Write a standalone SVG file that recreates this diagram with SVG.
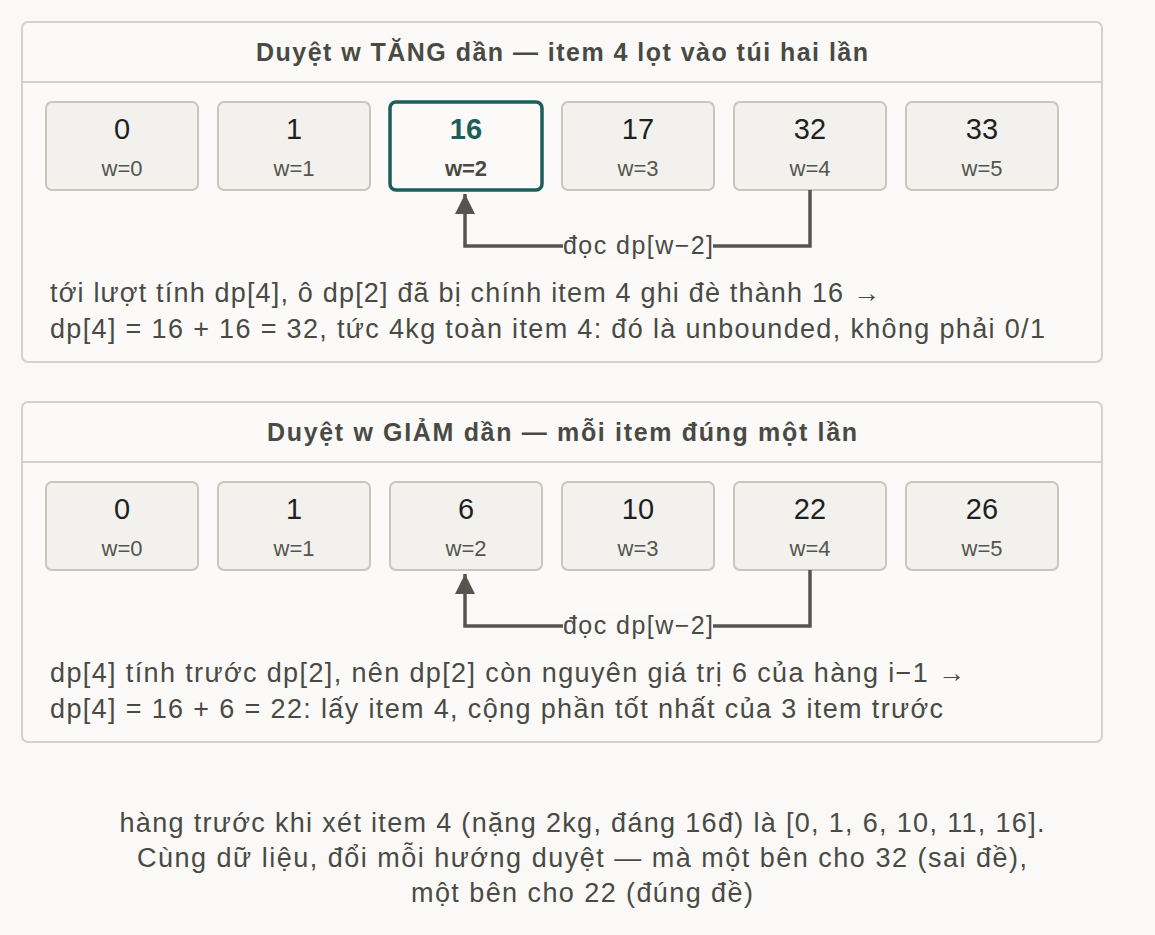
<svg xmlns="http://www.w3.org/2000/svg" width="1155" height="935" viewBox="0 0 1155 935">
<style>
text{font-family:"Helvetica Neue","Liberation Sans",Arial,sans-serif}
.panel{fill:#fbfaf8;stroke:#d4d1cb;stroke-width:2}
.cell{fill:#f2f1ee;stroke:#c9c6c0;stroke-width:2}
.hl{fill:#fbfaf8;stroke:#1b5e5a;stroke-width:3.5}
.title{font-size:25px;font-weight:bold;fill:#4a4a44;text-anchor:middle}
.v{font-size:29px;fill:#1f1f1f;text-anchor:middle}
.w{font-size:22px;fill:#555550;text-anchor:middle}
.note{font-size:27px;fill:#4a4a44}
.foot{font-size:27px;fill:#4a4a44;text-anchor:middle}
.lbl{font-size:25px;fill:#4a4a44;text-anchor:middle}
.conn{fill:none;stroke:#555550;stroke-width:3.5}
</style>
<defs><marker id="a" viewBox="0 0 20 20" refX="20" refY="10" markerWidth="20" markerHeight="20" orient="auto" markerUnits="userSpaceOnUse"><path d="M0,0L20,10L0,20z" fill="#555550"/></marker></defs>
<rect width="1155" height="935" fill="#faf9f7"/>
<g id="panel1">
<rect class="panel" x="22" y="22" width="1080" height="340" rx="6"/>
<line x1="22" y1="82" x2="1102" y2="82" stroke="#d4d1cb" stroke-width="2"/>
<text class="title" x="562" y="61" textLength="612">Duyệt w TĂNG dần — item 4 lọt vào túi hai lần</text>
</g>
<g id="p1c0"><rect class="cell" x="46" y="102" width="152" height="88" rx="6"/><text class="v" x="122" y="139">0</text><text class="w" x="122" y="176">w=0</text></g>
<g id="p1c1"><rect class="cell" x="218" y="102" width="152" height="88" rx="6"/><text class="v" x="294" y="139">1</text><text class="w" x="294" y="176">w=1</text></g>
<g id="p1c2"><rect class="hl" x="390" y="102" width="152" height="88" rx="6"/><text class="v" x="466" y="139" style="font-weight:bold;fill:#1b5e5a">16</text><text class="w" x="466" y="176" style="font-weight:bold;fill:#4a4a44">w=2</text></g>
<g id="p1c3"><rect class="cell" x="562" y="102" width="152" height="88" rx="6"/><text class="v" x="638" y="139">17</text><text class="w" x="638" y="176">w=3</text></g>
<g id="p1c4"><rect class="cell" x="734" y="102" width="152" height="88" rx="6"/><text class="v" x="810" y="139">32</text><text class="w" x="810" y="176">w=4</text></g>
<g id="p1c5"><rect class="cell" x="906" y="102" width="152" height="88" rx="6"/><text class="v" x="982" y="139">33</text><text class="w" x="982" y="176">w=5</text></g>
<text class="note" x="50" y="302" textLength="830">tới lượt tính dp[4], ô dp[2] đã bị chính item 4 ghi đè thành 16 →</text>
<text class="note" x="50" y="338" textLength="995">dp[4] = 16 + 16 = 32, tức 4kg toàn item 4: đó là unbounded, không phải 0/1</text>
<g id="panel2">
<rect class="panel" x="22" y="402" width="1080" height="340" rx="6"/>
<line x1="22" y1="462" x2="1102" y2="462" stroke="#d4d1cb" stroke-width="2"/>
<text class="title" x="562" y="441" textLength="590">Duyệt w GIẢM dần — mỗi item đúng một lần</text>
</g>
<g id="p2c0"><rect class="cell" x="46" y="482" width="152" height="88" rx="6"/><text class="v" x="122" y="519">0</text><text class="w" x="122" y="556">w=0</text></g>
<g id="p2c1"><rect class="cell" x="218" y="482" width="152" height="88" rx="6"/><text class="v" x="294" y="519">1</text><text class="w" x="294" y="556">w=1</text></g>
<g id="p2c2"><rect class="cell" x="390" y="482" width="152" height="88" rx="6"/><text class="v" x="466" y="519">6</text><text class="w" x="466" y="556">w=2</text></g>
<g id="p2c3"><rect class="cell" x="562" y="482" width="152" height="88" rx="6"/><text class="v" x="638" y="519">10</text><text class="w" x="638" y="556">w=3</text></g>
<g id="p2c4"><rect class="cell" x="734" y="482" width="152" height="88" rx="6"/><text class="v" x="810" y="519">22</text><text class="w" x="810" y="556">w=4</text></g>
<g id="p2c5"><rect class="cell" x="906" y="482" width="152" height="88" rx="6"/><text class="v" x="982" y="519">26</text><text class="w" x="982" y="556">w=5</text></g>
<text class="note" x="50" y="682" textLength="915">dp[4] tính trước dp[2], nên dp[2] còn nguyên giá trị 6 của hàng i−1 →</text>
<text class="note" x="50" y="718" textLength="893">dp[4] = 16 + 6 = 22: lấy item 4, cộng phần tốt nhất của 3 item trước</text>
<g id="connectors">
<path class="conn" d="M810,190V246H465V194" marker-end="url(#a)"/>
<rect x="563" y="232" width="150" height="28" fill="#faf9f7"/>
<text class="lbl" x="638" y="254" textLength="150">đọc dp[w−2]</text>
<path class="conn" d="M810,570V626H465V574" marker-end="url(#a)"/>
<rect x="563" y="612" width="150" height="28" fill="#faf9f7"/>
<text class="lbl" x="638" y="634" textLength="150">đọc dp[w−2]</text>
</g>
<text class="foot" x="582" y="832" textLength="925">hàng trước khi xét item 4 (nặng 2kg, đáng 16đ) là [0, 1, 6, 10, 11, 16].</text>
<text class="foot" x="582" y="867" textLength="890">Cùng dữ liệu, đổi mỗi hướng duyệt — mà một bên cho 32 (sai đề),</text>
<text class="foot" x="582" y="902" textLength="342">một bên cho 22 (đúng đề)</text>
</svg>
